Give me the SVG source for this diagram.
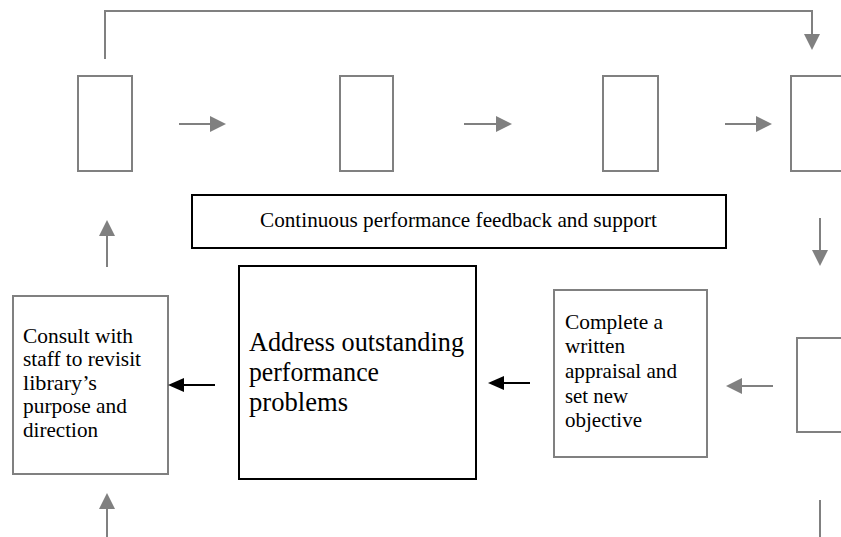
<svg xmlns="http://www.w3.org/2000/svg" width="841" height="537" viewBox="0 0 841 537">
  <style>
    .g { fill: #ffffff; stroke: #808080; stroke-width: 2; }
    .k { fill: #ffffff; stroke: #000000; stroke-width: 2; }
    .lg { fill: none; stroke: #808080; stroke-width: 2; }
    .lk { fill: none; stroke: #000000; stroke-width: 2; }
    text { font-family: "Liberation Serif", "Times New Roman", serif; fill: #000000; }
    .s { font-size: 21px; }
    .m { font-size: 21.2px; }
    .b { font-size: 26.5px; }
  </style>
  <defs>
    <marker id="ah-g" viewBox="0 0 16 16" markerWidth="16" markerHeight="16" refX="0" refY="8" orient="auto" markerUnits="userSpaceOnUse">
      <path d="M0,0 L16,8 L0,16 z" fill="#808080"/>
    </marker>
    <marker id="ah-k" viewBox="0 0 16 14" markerWidth="16" markerHeight="14" refX="0" refY="7" orient="auto" markerUnits="userSpaceOnUse">
      <path d="M0,0 L16,7 L0,14 z" fill="#000000"/>
    </marker>
  </defs>

  <!-- top row of blank stages -->
  <g id="stage1"><rect class="g" x="78" y="76" width="54" height="95"/></g>
  <g id="stage2"><rect class="g" x="340" y="76" width="53" height="95"/></g>
  <g id="stage3"><rect class="g" x="603" y="76" width="55" height="95"/></g>
  <g id="stage4"><rect class="g" x="791" y="76" width="60" height="95"/></g>

  <g id="feedback">
    <rect class="k" x="192" y="195" width="534" height="53"/>
    <text class="m" x="260" y="227" textLength="397" lengthAdjust="spacingAndGlyphs">Continuous performance feedback and support</text>
  </g>

  <g id="address">
    <rect class="k" x="239" y="266" width="237" height="213"/>
    <text class="b" x="249" y="351" textLength="215" lengthAdjust="spacingAndGlyphs">Address outstanding</text>
    <text class="b" x="249" y="381" textLength="130" lengthAdjust="spacingAndGlyphs">performance</text>
    <text class="b" x="249" y="411" textLength="99" lengthAdjust="spacingAndGlyphs">problems</text>
  </g>

  <g id="consult">
    <rect class="g" x="13" y="296" width="155" height="178"/>
    <text class="s" x="23" y="343" textLength="110" lengthAdjust="spacingAndGlyphs">Consult with</text>
    <text class="s" x="23" y="366" textLength="118" lengthAdjust="spacingAndGlyphs">staff to revisit</text>
    <text class="s" x="23" y="390" textLength="74" lengthAdjust="spacingAndGlyphs">library’s</text>
    <text class="s" x="23" y="413" textLength="104" lengthAdjust="spacingAndGlyphs">purpose and</text>
    <text class="s" x="23" y="437" textLength="75" lengthAdjust="spacingAndGlyphs">direction</text>
  </g>

  <g id="appraisal">
    <rect class="g" x="554" y="290" width="153" height="167"/>
    <text class="s" x="565" y="329" textLength="98" lengthAdjust="spacingAndGlyphs">Complete a</text>
    <text class="s" x="565" y="353" textLength="60" lengthAdjust="spacingAndGlyphs">written</text>
    <text class="s" x="565" y="378" textLength="112" lengthAdjust="spacingAndGlyphs">appraisal and</text>
    <text class="s" x="565" y="403" textLength="63" lengthAdjust="spacingAndGlyphs">set new</text>
    <text class="s" x="565" y="427" textLength="77" lengthAdjust="spacingAndGlyphs">objective</text>
  </g>

  <g id="stage5"><rect class="g" x="797" y="338" width="60" height="94"/></g>

  <!-- connectors -->
  <g id="connectors">
    <path class="lg" d="M105,59 V11 H812 V34" marker-end="url(#ah-g)"/>
    <path class="lg" d="M179,124 H210" marker-end="url(#ah-g)"/>
    <path class="lg" d="M464,124 H496" marker-end="url(#ah-g)"/>
    <path class="lg" d="M725,124 H756" marker-end="url(#ah-g)"/>
    <path class="lg" d="M820,218 V250" marker-end="url(#ah-g)"/>
    <path class="lg" d="M773,386 H742" marker-end="url(#ah-g)"/>
    <path class="lk" d="M530,383 H504" marker-end="url(#ah-k)"/>
    <path class="lk" d="M215,385 H184" marker-end="url(#ah-k)"/>
    <path class="lg" d="M107,267 V236" marker-end="url(#ah-g)"/>
    <path class="lg" d="M107,537 V509" marker-end="url(#ah-g)"/>
    <path class="lg" d="M820,500 V537"/>
  </g>
</svg>
